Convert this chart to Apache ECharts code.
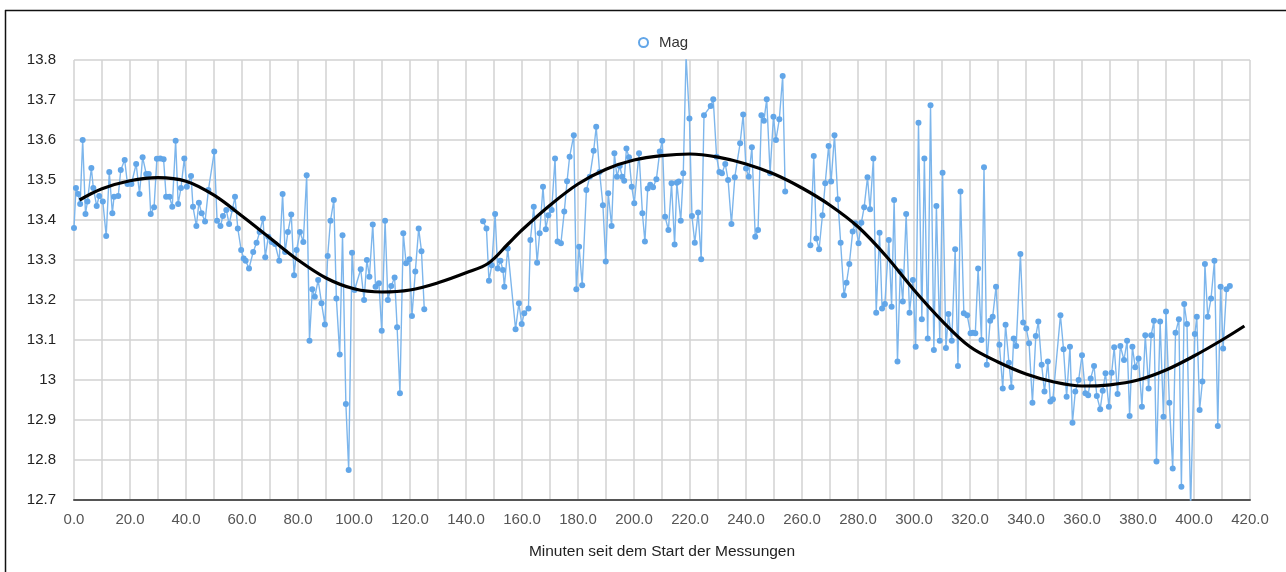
<!DOCTYPE html>
<html>
<head>
<meta charset="utf-8">
<script src="https://cdn.jsdelivr.net/npm/echarts@6/dist/echarts.min.js"></script>
<style>
html,body{margin:0;padding:0;background:#fff;}
#c{width:1286px;height:572px;}
</style>
</head>
<body>
<div id="c"></div>
<script>
// Measurement times (minutes) and magnitudes; null marks gaps in the series
const times = [
0,0.7,1.5,2.2,3.1,4.1,4.8,6.2,6.9,8.1,9.0,10.3,11.5,12.6,13.7,14.3,15.8,16.7,18.1,19.1,
20.5,22.2,23.4,24.5,25.8,26.7,27.4,28.6,29.6,30.8,32.0,32.9,34.1,35.1,36.3,37.2,38.2,39.4,40.3,41.8,
42.5,43.7,44.6,45.6,46.8,48.0,50.1,51.1,52.3,53.2,54.4,55.4,56.6,57.5,58.5,59.7,60.6,61.3,62.5,64.0,
65.2,66.3,67.5,68.3,69.4,70.6,71.8,73.3,74.5,75.4,76.4,77.6,78.6,79.5,80.7,81.9,83.1,84.1,85.1,86.0,
87.2,88.4,89.6,90.6,91.6,92.8,93.7,94.9,95.9,97.1,98.1,99.3,100.2,102.4,103.6,104.6,105.5,106.7,107.7,108.9,
109.9,111.1,112.1,113.3,114.5,115.4,116.4,117.6,118.6,119.8,120.7,121.9,123.1,124.1,125.1,
135,
146.1,147.3,148.2,149.2,150.4,151.3,152.3,153.2,153.7,154.9,157.7,158.9,159.9,160.8,162.3,163.0,164.2,165.4,166.3,167.5,
168.5,169.4,170.6,171.8,172.7,173.9,175.1,176.1,177.0,178.5,179.4,180.4,181.5,183.0,184.2,185.6,186.5,187.7,188.9,189.9,
190.8,192.0,193.0,193.9,194.9,195.8,196.5,197.3,198.2,199.2,200.1,201.8,203.0,203.9,204.9,205.8,206.8,208.0,209.2,210.1,
211.1,212.3,213.4,214.5,215.3,216.0,216.7,217.6,218.6,219.8,220.7,221.7,222.9,224.0,225.0,227.4,228.3,229.5,230.5,231.4,
232.6,233.6,234.8,236.0,237.9,239.0,240.0,241.0,242.1,243.3,244.3,245.5,246.4,247.4,248.6,249.8,250.7,251.9,253.1,254.0,
258,
263.0,264.2,265.1,266.1,267.3,268.3,269.5,270.4,271.6,272.8,273.8,275.0,275.9,276.9,278.1,279.0,280.2,281.2,282.2,283.4,
284.3,285.5,286.5,287.7,288.6,289.6,291.0,292.0,292.9,294.1,295.1,296.0,297.2,298.4,299.6,300.6,301.6,302.8,303.7,304.9,
305.9,307.1,308.0,309.2,310.2,311.4,312.3,313.5,314.7,315.7,316.6,317.8,319.0,320.2,321.0,321.9,322.9,324.1,325.0,326.0,
327.2,328.1,329.3,330.5,331.7,332.7,333.9,334.8,335.6,336.5,338.0,339.0,340.1,341.1,342.3,343.5,344.4,345.6,346.6,347.8,
348.7,349.6,352.3,353.4,354.5,355.7,356.6,357.6,358.8,360.0,361.2,362.2,363.1,364.3,365.3,366.5,367.4,368.4,369.6,370.6,
371.5,372.7,373.7,375.0,376.1,377.0,378.0,379.0,380.2,381.4,382.6,383.8,384.7,385.7,386.6,387.9,389.1,390.0,391.2,392.4,
393.4,394.6,395.5,396.5,397.5,398.8,400.3,401.0,402.0,403.0,403.9,404.9,406.1,407.3,408.5,409.5,410.4,411.6,412.8
];
const mags = [
13.38,13.48,13.465,13.44,13.60,13.415,13.446,13.53,13.48,13.435,13.46,13.446,13.36,13.52,13.417,13.458,13.46,13.525,13.55,13.49,
13.49,13.54,13.465,13.557,13.515,13.515,13.415,13.432,13.553,13.554,13.552,13.458,13.458,13.433,13.598,13.44,13.48,13.554,13.483,13.51,
13.433,13.385,13.443,13.417,13.396,13.475,13.571,13.398,13.385,13.41,13.425,13.39,13.427,13.458,13.379,13.325,13.304,13.298,13.279,13.32,
13.343,13.37,13.404,13.307,13.358,13.345,13.34,13.298,13.465,13.32,13.37,13.414,13.262,13.325,13.37,13.345,13.512,13.098,13.227,13.208,
13.25,13.192,13.139,13.31,13.398,13.45,13.204,13.064,13.362,12.94,12.775,13.318,13.225,13.277,13.2,13.3,13.258,13.389,13.233,13.242,
13.123,13.398,13.2,13.235,13.256,13.132,12.967,13.367,13.292,13.302,13.16,13.271,13.379,13.322,13.177,
null,
13.397,13.379,13.248,13.287,13.415,13.279,13.298,13.275,13.233,13.329,13.127,13.192,13.14,13.167,13.179,13.35,13.433,13.293,13.367,13.483,
13.377,13.412,13.425,13.554,13.346,13.342,13.421,13.497,13.558,13.612,13.227,13.333,13.237,13.475,13.508,13.573,13.633,13.52,13.437,13.296,
13.467,13.385,13.567,13.508,13.535,13.508,13.498,13.579,13.557,13.483,13.442,13.567,13.417,13.346,13.479,13.488,13.482,13.502,13.571,13.598,
13.408,13.375,13.492,13.339,13.493,13.496,13.398,13.517,13.81,13.654,13.41,13.343,13.419,13.302,13.662,13.685,13.702,13.558,13.52,13.517,
13.54,13.5,13.39,13.507,13.592,13.664,13.529,13.508,13.582,13.358,13.375,13.662,13.648,13.702,13.517,13.658,13.6,13.652,13.76,13.471,
null,
13.337,13.56,13.354,13.327,13.412,13.492,13.585,13.496,13.612,13.452,13.343,13.212,13.243,13.29,13.371,13.392,13.342,13.393,13.432,13.507,
13.427,13.554,13.168,13.368,13.179,13.19,13.35,13.183,13.45,13.046,13.271,13.196,13.415,13.168,13.25,13.083,13.643,13.152,13.554,13.104,
13.687,13.075,13.435,13.098,13.518,13.08,13.165,13.098,13.327,13.035,13.471,13.167,13.162,13.117,13.118,13.117,13.279,13.10,13.532,13.038,
13.148,13.158,13.233,13.088,12.979,13.138,13.043,12.982,13.104,13.085,13.315,13.144,13.129,13.092,12.943,13.11,13.146,13.038,12.971,13.046,
12.946,12.952,13.162,13.077,12.958,13.083,12.893,12.971,13.0,13.062,12.967,12.962,13.004,13.035,12.96,12.927,12.973,13.017,12.933,13.018,
13.082,12.965,13.085,13.05,13.098,12.91,13.083,13.032,13.054,12.933,13.112,12.979,13.112,13.148,12.796,13.146,12.908,13.171,12.943,12.779,
13.118,13.152,12.733,13.19,13.14,12.68,13.115,13.158,12.925,12.996,13.29,13.158,13.204,13.298,12.885,13.233,13.079,13.227,13.235
];
// Fitted trend curve
const fitX = [2,10,20,30,40,50,60,70,80,90,100,110,120,130,140,148,155,160,170,180,190,200,210,220,230,240,250,260,270,280,290,300,310,320,330,340,350,360,370,380,390,400,410,418];
const fitY = [13.45,13.478,13.498,13.506,13.497,13.462,13.41,13.355,13.30,13.255,13.228,13.22,13.225,13.243,13.268,13.292,13.34,13.375,13.437,13.49,13.527,13.55,13.561,13.565,13.557,13.54,13.515,13.48,13.437,13.383,13.31,13.225,13.148,13.083,13.045,13.015,12.995,12.985,12.988,13.0,13.025,13.06,13.10,13.135];

const magData = times.map((t,i)=> mags[i]===null ? [t,'-'] : [t,mags[i]]);
const fitData = fitX.map((x,i)=>[x,fitY[i]]);
const blue = '#62a6e8';
const font = '"Liberation Sans", Arial, sans-serif';

const chart = echarts.init(document.getElementById('c'), null, {renderer:'canvas'});
chart.setOption({
  animation:false,
  backgroundColor:'#fff',
  textStyle:{fontFamily:font},
  graphic:[
    {type:'line', shape:{x1:5,y1:10.5,x2:1286,y2:10.5}, style:{stroke:'#111',lineWidth:1.5}},
    {type:'line', shape:{x1:5.5,y1:10,x2:5.5,y2:572}, style:{stroke:'#111',lineWidth:1.5}}
  ],
  legend:{
    data:[{name:'Mag', icon:'circle'}],
    left:633, top:30,
    itemWidth:9, itemHeight:9, itemGap:8,
    itemStyle:{color:'#fff', borderColor:blue, borderWidth:2},
    textStyle:{fontSize:15, color:'#333', fontFamily:font, padding:[0,0,0,6]}
  },
  grid:{left:74, right:36, top:60, bottom:72, containLabel:false},
  xAxis:{
    type:'value', min:0, max:420, interval:10,
    name:'Minuten seit dem Start der Messungen',
    nameLocation:'middle', nameGap:44,
    nameTextStyle:{fontSize:15.5, color:'#222', fontFamily:font},
    axisLine:{show:true, lineStyle:{color:'#555', width:2}},
    axisTick:{show:false},
    axisLabel:{fontSize:15, color:'#555', margin:12, fontFamily:font,
      formatter:v=> (Math.round(v)%20===0) ? v.toFixed(1) : ''},
    splitLine:{show:true, lineStyle:{color:'#d2d2d2', width:1.5}}
  },
  yAxis:{
    type:'value', min:12.7, max:13.8, interval:0.1,
    axisLine:{show:false},
    axisTick:{show:false},
    axisLabel:{fontSize:15, color:'#222', margin:18, fontFamily:font,
      formatter:v=> String(+v.toFixed(1))},
    splitLine:{show:true, lineStyle:{color:'#d2d2d2', width:1.5}}
  },
  series:[
    {
      name:'Mag', type:'line', data:magData,
      symbol:'circle', symbolSize:6, showAllSymbol:true,
      connectNulls:false, clip:true,
      lineStyle:{color:'#7db6ec', width:1.4},
      itemStyle:{color:blue},
      z:2
    },
    {
      name:'Fit', type:'line', data:fitData,
      symbol:'none', smooth:0.35, clip:true,
      lineStyle:{color:'#000', width:3.2},
      z:3
    }
  ]
});
</script>
</body>
</html>
